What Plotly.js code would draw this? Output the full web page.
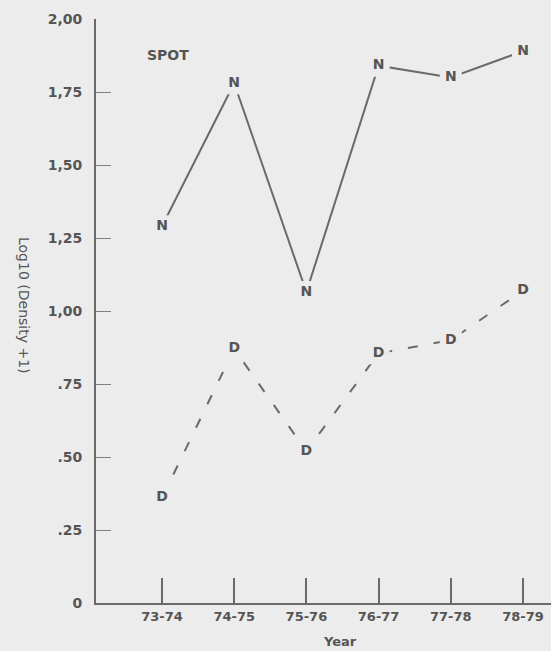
<!DOCTYPE html>
<html>
<head>
<meta charset="utf-8">
<script src="https://cdn.plot.ly/plotly-3.0.1.min.js"></script>
<style>html,body{margin:0;padding:0;background:#ececec;}#chart{width:551px;height:651px;}</style>
</head>
<body>
<div id="chart"></div>
<script>
const years = ["73-74", "74-75", "75-76", "76-77", "77-78", "78-79"];
const yearLabels = ["73-74", "74-75", "75-76", "76-77", "77-78", "78-79"];
const nValues = [1.29, 1.78, 1.065, 1.84, 1.80, 1.89];
const dValues = [0.36, 0.87, 0.52, 0.855, 0.90, 1.07];
const yTickVals = [0, 0.25, 0.5, 0.75, 1.0, 1.25, 1.5, 1.75, 2.0];
const yTickText = ["0", ".25", ".50", ".75", "1,00", "1,25", "1,50", "1,75", "2,00"];

const bg = "#ececec";
const ink = "#555555";
const fontFam = "DejaVu Sans, Liberation Sans, sans-serif";

const traces = [
  {
    x: years, y: nValues, type: "scatter", mode: "lines+markers+text",
    text: years.map(() => "N"), textposition: "middle center",
    textfont: {family: fontFam, size: 14, color: ink, weight: "bold"},
    line: {color: "#6a6a6a", width: 2},
    marker: {symbol: "square", size: 22, color: bg, line: {width: 0}},
    cliponaxis: false, hoverinfo: "x+y"
  },
  {
    x: years, y: dValues, type: "scatter", mode: "lines+markers+text",
    text: years.map(() => "D"), textposition: "middle center",
    textfont: {family: fontFam, size: 14, color: ink, weight: "bold"},
    line: {color: "#6a6a6a", width: 2, dash: "10px,16px"},
    marker: {symbol: "square", size: 22, color: bg, line: {width: 0}},
    cliponaxis: false, hoverinfo: "x+y"
  }
];

const layout = {
  width: 551, height: 651,
  paper_bgcolor: bg, plot_bgcolor: bg,
  margin: {l: 96, r: 0, t: 19, b: 48},
  showlegend: false,
  font: {family: fontFam, color: ink, size: 12},
  xaxis: {
    type: "category", range: [-0.914, 5.388],
    tickvals: years, ticktext: yearLabels,
    ticks: "inside", ticklen: 25, tickwidth: 2, tickcolor: "#6a6a6a",
    showline: true, linecolor: "#6a6a6a", linewidth: 2,
    showgrid: false, zeroline: false,
    tickfont: {family: fontFam, size: 13, color: ink, weight: "bold"},
    fixedrange: true
  },
  yaxis: {
    range: [0, 2.0], tickvals: yTickVals, ticktext: yTickText,
    ticks: "inside", ticklen: 15, tickwidth: 1, tickcolor: "#808080",
    showline: true, linecolor: "#6a6a6a", linewidth: 2,
    showgrid: false, zeroline: false,
    ticklabelstandoff: 9,
    tickfont: {family: fontFam, size: 14, color: ink, weight: "bold"},
    fixedrange: true
  },
  annotations: [
    {text: "SPOT", xref: "paper", yref: "paper", x: (168 - 96) / 455, y: (603 - 55) / 584,
     showarrow: false, xanchor: "center", yanchor: "middle",
     font: {family: fontFam, size: 14, color: ink, weight: "bold"}},
    {text: "Log10 (Density +1)", xref: "paper", yref: "paper", x: (24 - 96) / 455, y: (603 - 305) / 584,
     showarrow: false, textangle: 90, xanchor: "center", yanchor: "middle",
     font: {family: fontFam, size: 14, color: ink}},
    {text: "Year", xref: "paper", yref: "paper", x: (340 - 96) / 455, y: -(641 - 603) / 584,
     showarrow: false, xanchor: "center", yanchor: "middle",
     font: {family: fontFam, size: 13, color: ink, weight: "bold"}}
  ]
};

Plotly.newPlot("chart", traces, layout, {displayModeBar: false, staticPlot: true});
</script>
</body>
</html>
